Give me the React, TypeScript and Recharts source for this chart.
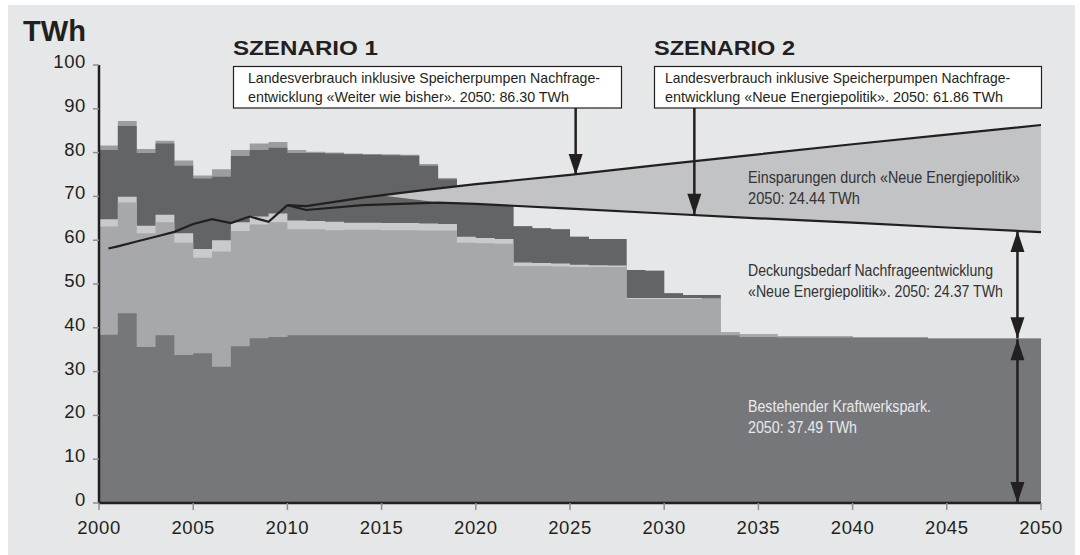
import React from 'react';
import { ComposedChart, Area, Line, XAxis, YAxis, ReferenceLine } from 'recharts';

// ---- categories ----
const YEARS = [
  2000, 2001, 2002, 2003, 2004, 2005, 2006, 2007, 2008, 2009,
  2010, 2011, 2012, 2013, 2014, 2015, 2016, 2017, 2018, 2019,
  2020, 2021, 2022, 2023, 2024, 2025, 2026, 2027, 2028, 2029,
  2030, 2031, 2032, 2033, 2034, 2035, 2036, 2037, 2038, 2039,
  2040, 2041, 2042, 2043, 2044, 2045, 2046, 2047, 2048, 2049, 2050,
];
const X_TICKS = [2000, 2005, 2010, 2015, 2020, 2025, 2030, 2035, 2040, 2045, 2050];
const Y_TICKS = [0, 10, 20, 30, 40, 50, 60, 70, 80, 90, 100];

// ---- stacked layer tops (TWh), one per year 2000..2049 ----
const BASE_TOP = [
  38.4, 43.3, 35.6, 38.3, 33.8, 34.2, 31.1, 35.8, 37.6, 37.9,
  38.3, 38.3, 38.3, 38.3, 38.3, 38.3, 38.3, 38.3, 38.3, 38.3,
  38.3, 38.3, 38.3, 38.3, 38.3, 38.3, 38.3, 38.3, 38.3, 38.3,
  38.3, 38.3, 38.3, 38.3, 37.9, 37.9, 37.8, 37.8, 37.8, 37.8,
  37.7, 37.7, 37.7, 37.7, 37.5, 37.5, 37.5, 37.5, 37.5, 37.5,
];
const MID_TOP = [
  63.1, 68.6, 61.6, 64.1, 59.4, 56.0, 57.4, 62.1, 63.6, 64.1,
  62.5, 62.5, 62.3, 62.4, 62.4, 62.3, 62.3, 62.2, 62.2, 59.4,
  59.3, 59.2, 54.1, 54.1, 54.0, 53.9, 53.9, 53.9, 46.6, 46.6,
  46.6, 46.6, 46.6, 38.9, 38.6, 38.6, 38.1, 38.1, 38.1, 38.1,
  37.9, 37.9, 37.9, 37.9, 37.6, 37.6, 37.6, 37.6, 37.6, 37.6,
];
const LIGHT_TOP = [
  64.8, 69.9, 63.3, 65.8, 61.6, 58.0, 60.0, 64.1, 65.4, 66.1,
  64.5, 64.4, 64.2, 64.0, 64.0, 63.9, 63.9, 63.8, 63.7, 60.8,
  60.5, 60.3, 54.9, 54.8, 54.7, 54.4, 54.3, 54.2, 46.8, 46.8,
  46.8, 46.8, 46.7, 38.9, 38.6, 38.6, 38.1, 38.1, 38.1, 38.1,
  37.9, 37.9, 37.9, 37.9, 37.6, 37.6, 37.6, 37.6, 37.6, 37.6,
];
const DARK_TOP = [
  80.6, 86.1, 79.9, 82.1, 77.0, 74.1, 74.5, 79.2, 80.6, 81.1,
  79.9, 79.9, 79.8, 79.6, 79.5, 79.4, 79.3, 77.0, 73.9, 70.0,
  70.0, 70.0, 63.2, 62.7, 62.5, 60.8, 60.3, 60.3, 53.2, 53.0,
  47.9, 47.5, 47.5, 38.9, 38.6, 38.6, 38.1, 38.1, 38.1, 38.1,
  37.9, 37.9, 37.9, 37.9, 37.6, 37.6, 37.6, 37.6, 37.6, 37.6,
];
const CAP_TOP = [
  81.6, 87.2, 80.8, 82.7, 78.2, 74.8, 76.2, 80.6, 82.1, 82.4,
  80.6, 80.2, 80.0, 79.8, 79.7, 79.6, 79.5, 77.4, 74.2, 70.0,
  70.0, 70.0, 63.2, 62.7, 62.5, 60.8, 60.3, 60.3, 53.2, 53.0,
  47.9, 47.5, 47.5, 38.9, 38.6, 38.6, 38.1, 38.1, 38.1, 38.1,
  37.9, 37.9, 37.9, 37.9, 37.6, 37.6, 37.6, 37.6, 37.6, 37.6,
];

// ---- lines ----
const HIST_YEARS = [2000.5, 2001, 2002, 2003, 2004, 2005, 2006, 2007, 2008, 2009, 2010];
const HIST_VALUES = [58.1, 58.6, 59.7, 60.8, 61.9, 63.7, 64.8, 63.9, 65.4, 64.2, 68.0];
const S1_YEARS = [2010, 2011, 2014, 2017, 2020, 2025, 2030, 2035, 2040, 2045, 2050];
const S1_VALUES = [68.0, 67.8, 69.7, 71.3, 72.8, 74.9, 77.3, 79.6, 81.9, 84.1, 86.3];
const S2_YEARS = [2010, 2011, 2014, 2018, 2020, 2025, 2030, 2035, 2040, 2045, 2050];
const S2_VALUES = [68.0, 66.9, 68.0, 68.6, 68.3, 67.2, 66.1, 65.0, 64.0, 62.9, 61.86];
const WEDGE_YEARS = [2015, 2017, 2018, 2020, 2025, 2030, 2035, 2040, 2045, 2050];
const WEDGE_LOW = [70.2, 69.2, 68.6, 68.3, 67.2, 66.1, 65.0, 64.0, 62.9, 61.86];
const WEDGE_HIGH = [70.2, 71.3, 71.8, 72.8, 74.9, 77.3, 79.6, 81.9, 84.1, 86.3];

const BG = '#e6e7e8';
const INK = '#231f20';
const C_CAP = '#9c9d9f';
const C_DARK = '#636466';
const C_LIGHT = '#c9cacc';
const C_MID = '#a7a8ab';
const C_BASE = '#76777b';
const C_WEDGE = '#c2c3c5';

const last = (arr: number[], i: number) => arr[Math.min(i, arr.length - 1)];
const rows = YEARS.map((year, i) => ({
  year,
  base: last(BASE_TOP, i),
  mid: last(MID_TOP, i),
  light: last(LIGHT_TOP, i),
  dark: last(DARK_TOP, i),
  cap: last(CAP_TOP, i),
}));
const histRows = HIST_YEARS.map((year, i) => ({ year, v: HIST_VALUES[i] }));
const s1Rows = S1_YEARS.map((year, i) => ({ year, v: S1_VALUES[i] }));
const s2Rows = S2_YEARS.map((year, i) => ({ year, v: S2_VALUES[i] }));
const wedgeRows = WEDGE_YEARS.map((year, i) => ({ year, range: [WEDGE_LOW[i], WEDGE_HIGH[i]] }));

const FONT = '"Liberation Sans", Arial, Helvetica, sans-serif';

const XTick = (props: any) => {
  const { x, y, payload } = props;
  return (
    <text x={x} y={y + 22} textAnchor="middle" fontFamily={FONT} fontSize={18.5} letterSpacing={0.6} fill={INK}>
      {payload.value}
    </text>
  );
};
const YTick = (props: any) => {
  const { x, y, payload } = props;
  return (
    <text x={x - 5} y={y + 3} textAnchor="end" fontFamily={FONT} fontSize={18.5} letterSpacing={0.6} fill={INK}>
      {payload.value}
    </text>
  );
};

const HEAD_W = 7;
const HEAD_L = 21;
const makeArrow = (both: boolean) => (props: any) => {
  const { x1, y1, x2, y2 } = props;
  return (
    <g>
      <line x1={x1} y1={y1} x2={x2} y2={y2} stroke={INK} strokeWidth={2.5} />
      <polygon points={`${x2 - HEAD_W},${y2 - HEAD_L} ${x2 + HEAD_W},${y2 - HEAD_L} ${x2},${y2}`} fill={INK} />
      {both ? (
        <polygon points={`${x1 - HEAD_W},${y1 + HEAD_L} ${x1 + HEAD_W},${y1 + HEAD_L} ${x1},${y1}`} fill={INK} />
      ) : null}
    </g>
  );
};

const T = (p: { x: number; y: number; w: number; size: number; fill?: string; weight?: string; children: string }) => (
  <text
    x={p.x}
    y={p.y}
    fontFamily={FONT}
    fontSize={p.size}
    fontWeight={p.weight || 'normal'}
    fill={p.fill || INK}
    textLength={p.w}
    lengthAdjust="spacingAndGlyphs"
  >
    {p.children}
  </text>
);

export default function App() {
  return (
    <div style={{ position: 'fixed', left: 0, top: 0, width: 1080, height: 555, background: '#ffffff' }}>
      <div style={{ position: 'absolute', left: 8, top: 5, width: 1067, height: 550, background: BG }}>
        <ComposedChart width={1067} height={550} data={rows} margin={{ top: 60, right: 34, bottom: 22, left: 21 }}>
          <XAxis
            dataKey="year"
            type="number"
            domain={[2000, 2050]}
            allowDataOverflow
            ticks={X_TICKS}
            interval={0}
            height={30}
            tickSize={7}
            tick={<XTick />}
            tickLine={{ stroke: '#8e8f91', strokeWidth: 1.5 }}
            axisLine={{ stroke: INK, strokeWidth: 2.5 }}
          />
          <YAxis
            type="number"
            domain={[0, 100]}
            allowDataOverflow
            ticks={Y_TICKS}
            interval={0}
            width={70}
            tickSize={6}
            tick={<YTick />}
            tickLine={{ stroke: '#8e8f91', strokeWidth: 1.5 }}
            axisLine={{ stroke: INK, strokeWidth: 2.5 }}
          />
          <Area dataKey="cap" type="stepAfter" baseValue={0} fill={C_CAP} fillOpacity={1} stroke="none" isAnimationActive={false} />
          <Area dataKey="dark" type="stepAfter" baseValue={0} fill={C_DARK} fillOpacity={1} stroke="none" isAnimationActive={false} />
          <Area dataKey="light" type="stepAfter" baseValue={0} fill={C_LIGHT} fillOpacity={1} stroke="none" isAnimationActive={false} />
          <Area dataKey="mid" type="stepAfter" baseValue={0} fill={C_MID} fillOpacity={1} stroke="none" isAnimationActive={false} />
          <Area dataKey="base" type="stepAfter" baseValue={0} fill={C_BASE} fillOpacity={1} stroke="none" isAnimationActive={false} />
          <Area data={wedgeRows} dataKey="range" type="linear" fill={C_WEDGE} fillOpacity={1} stroke="none" isAnimationActive={false} />
          <Line data={histRows} dataKey="v" type="linear" stroke={INK} strokeWidth={2.2} dot={false} activeDot={false} isAnimationActive={false} />
          <Line data={s1Rows} dataKey="v" type="linear" stroke={INK} strokeWidth={2.2} dot={false} activeDot={false} isAnimationActive={false} />
          <Line data={s2Rows} dataKey="v" type="linear" stroke={INK} strokeWidth={2.2} dot={false} activeDot={false} isAnimationActive={false} />
          <ReferenceLine ifOverflow="visible" segment={[{ x: 2025.3, y: 90.2 }, { x: 2025.3, y: 74.9 }]} shape={makeArrow(false)} />
          <ReferenceLine ifOverflow="visible" segment={[{ x: 2031.6, y: 90.2 }, { x: 2031.6, y: 65.8 }]} shape={makeArrow(false)} />
          <ReferenceLine ifOverflow="visible" segment={[{ x: 2048.75, y: 62.1 }, { x: 2048.75, y: 37.6 }]} shape={makeArrow(true)} />
          <ReferenceLine ifOverflow="visible" segment={[{ x: 2048.75, y: 37.4 }, { x: 2048.75, y: 0 }]} shape={makeArrow(true)} />
        </ComposedChart>
      </div>
      <svg width={1080} height={555} style={{ position: 'absolute', left: 0, top: 0, pointerEvents: 'none' }}>
        <T x={23} y={41} w={63} size={29} weight="bold">TWh</T>
        <T x={233} y={55} w={145} size={21} weight="bold">SZENARIO 1</T>
        <T x={654} y={55} w={141} size={21} weight="bold">SZENARIO 2</T>

        <rect x={233.5} y={66.5} width={388} height={41.5} fill="#ffffff" stroke={INK} strokeWidth={1.2} />
        <T x={248} y={83} w={352} size={15}>Landesverbrauch inklusive Speicherpumpen Nachfrage-</T>
        <T x={248} y={101.5} w={321} size={15}>entwicklung «Weiter wie bisher». 2050: 86.30 TWh</T>

        <rect x={654.5} y={66.5} width={387} height={41.5} fill="#ffffff" stroke={INK} strokeWidth={1.2} />
        <T x={665} y={83} w={345} size={15}>Landesverbrauch inklusive Speicherpumpen Nachfrage-</T>
        <T x={665} y={101.5} w={338} size={15}>entwicklung «Neue Energiepolitik». 2050: 61.86 TWh</T>

        <T x={748} y={183} w={272} size={16} fill="#333234">Einsparungen durch «Neue Energiepolitik»</T>
        <T x={748} y={203.5} w={112} size={16} fill="#333234">2050: 24.44 TWh</T>
        <T x={748} y={276} w={245} size={16} fill="#333234">Deckungsbedarf Nachfrageentwicklung</T>
        <T x={748} y={297} w={255} size={16} fill="#333234">«Neue Energiepolitik». 2050: 24.37 TWh</T>
        <T x={748} y={412} w={183} size={16} fill="#e9e9ea">Bestehender Kraftwerkspark.</T>
        <T x={748} y={433} w={109} size={16} fill="#e9e9ea">2050: 37.49 TWh</T>
      </svg>
    </div>
  );
}
